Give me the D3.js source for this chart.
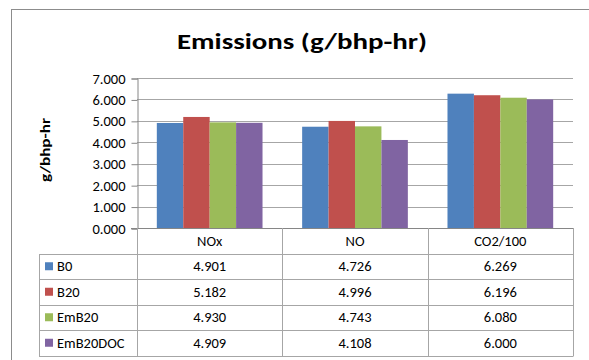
<!DOCTYPE html>
<html>
<head>
<meta charset="utf-8">
<script src="https://cdn.jsdelivr.net/npm/d3@7"></script>
<style>
  html, body { margin: 0; padding: 0; background: #fff; }
  svg { display: block; font-family: Carlito, Lato, "Open Sans", sans-serif; }
</style>
</head>
<body>
<svg id="chart" width="589" height="360"></svg>
<script>
// Emissions per fuel blend, g/bhp-hr (CO2 scaled by 1/100)
const categories = ["NOx", "NO", "CO2/100"];
const seriesNames = ["B0", "B20", "EmB20", "EmB20DOC"];
const B0 = [4.901, 4.726, 6.269];
const B20 = [5.182, 4.996, 6.196];
const EmB20 = [4.930, 4.743, 6.080];
const EmB20DOC = [4.909, 4.108, 6.000];
const seriesValues = [B0, B20, EmB20, EmB20DOC];
const seriesColors = ["#4F81BD", "#C0504D", "#9BBB59", "#8064A2"];
const yTicks = [0, 1, 2, 3, 4, 5, 6, 7];

const svg = d3.select("#chart");
const plot = { left: 137, right: 573, top: 78, bottom: 228 };
const rowH = 25.5;
const tableLeft = 39;
const gridColor = "#a6a6a6";

// Chart frame
svg.append("rect")
  .attr("x", 11.5).attr("y", 9.5)
  .attr("width", 700).attr("height", 400)
  .attr("fill", "#fff").attr("stroke", "#8c8c8c").attr("stroke-width", 1);

// Title
svg.append("text")
  .attr("x", 302).attr("y", 49)
  .attr("text-anchor", "middle")
  .attr("font-size", 23).attr("font-weight", "bold")
  .attr("textLength", 250).attr("lengthAdjust", "spacingAndGlyphs")
  .attr("fill", "#000")
  .text("Emissions (g/bhp-hr)");

// Scales
const y = d3.scaleLinear().domain([0, 7]).range([plot.bottom, plot.top]);
const x = d3.scaleBand().domain(categories).range([plot.left, plot.right]).padding(0);
const xs = d3.scaleBand().domain(seriesNames).range([0, x.bandwidth()])
  .paddingInner(0).paddingOuter(0.75);

// Gridlines
svg.append("g").selectAll("line").data(yTicks.filter(d => d > 0)).join("line")
  .attr("x1", plot.left).attr("x2", plot.right)
  .attr("y1", d => Math.round(y(d)) + 0.5).attr("y2", d => Math.round(y(d)) + 0.5)
  .attr("stroke", gridColor).attr("stroke-width", 1);

// Y axis
const yAxis = d3.axisLeft(y).tickValues(yTicks).tickFormat(d3.format(".3f"))
  .tickSize(6).tickPadding(6);
const gy = svg.append("g")
  .attr("transform", `translate(${plot.left + 0.5},0.5)`)
  .call(yAxis);
gy.select(".domain").attr("stroke", "#868686");
gy.selectAll(".tick line").attr("stroke", "#868686");
gy.selectAll(".tick text")
  .attr("font-family", 'Carlito, Lato, "Open Sans", sans-serif')
  .attr("font-size", 14.5).attr("fill", "#000");

// Y axis title
svg.append("text")
  .attr("transform", "translate(50,150) rotate(-90)")
  .attr("text-anchor", "middle")
  .attr("font-size", 14).attr("font-weight", "bold")
  .attr("textLength", 64).attr("lengthAdjust", "spacingAndGlyphs")
  .attr("fill", "#000")
  .text("g/bhp-hr");

// Bars
const groups = svg.append("g").selectAll("g").data(seriesNames).join("g")
  .attr("fill", (d, i) => seriesColors[i]);
groups.selectAll("rect")
  .data((s, si) => categories.map((c, ci) => ({ s, c, v: seriesValues[si][ci] })))
  .join("rect")
  .attr("x", d => x(d.c) + xs(d.s))
  .attr("width", xs.bandwidth())
  .attr("y", d => y(d.v))
  .attr("height", d => y(0) - y(d.v));

// Data table grid
const tbl = svg.append("g").attr("stroke", gridColor).attr("stroke-width", 1);
// axis baseline (category row top)
tbl.append("line")
  .attr("x1", plot.left - 6).attr("x2", plot.right)
  .attr("y1", plot.bottom + 0.5).attr("y2", plot.bottom + 0.5)
  .attr("stroke", "#868686");
const rowYs = d3.range(1, seriesNames.length + 2).map(i => plot.bottom + rowH * i);
tbl.selectAll("line.row").data(rowYs).join("line").attr("class", "row")
  .attr("x1", tableLeft).attr("x2", plot.right)
  .attr("y1", d => Math.round(d) + 0.5).attr("y2", d => Math.round(d) + 0.5);
const tableBottom = Math.round(rowYs[rowYs.length - 1]) + 0.5;
// vertical lines at category boundaries
const colXs = categories.map(c => x(c)).concat([plot.right]);
tbl.selectAll("line.col").data(colXs).join("line").attr("class", "col")
  .attr("x1", d => Math.round(d) + 0.5).attr("x2", d => Math.round(d) + 0.5)
  .attr("y1", plot.bottom).attr("y2", tableBottom);
tbl.append("line")
  .attr("x1", tableLeft + 0.5).attr("x2", tableLeft + 0.5)
  .attr("y1", Math.round(rowYs[0]) + 0.5).attr("y2", tableBottom);

// Category header labels
svg.append("g").selectAll("text").data(categories).join("text")
  .attr("x", d => x(d) + x.bandwidth() / 2)
  .attr("y", plot.bottom + rowH / 2 + 5)
  .attr("text-anchor", "middle")
  .attr("font-size", 14.5).attr("fill", "#000")
  .text(d => d);

// Legend keys and series values
const rows = svg.append("g").selectAll("g").data(seriesNames).join("g")
  .attr("transform", (d, i) => `translate(0,${plot.bottom + rowH * (i + 1)})`);
rows.append("rect")
  .attr("x", 45).attr("y", rowH / 2 - 4)
  .attr("width", 8).attr("height", 8)
  .attr("fill", (d, i) => seriesColors[i]);
rows.append("text")
  .attr("x", 57).attr("y", rowH / 2 + 5)
  .attr("font-size", 14.5).attr("fill", "#000")
  .text(d => d);
rows.selectAll("text.val")
  .data((s, si) => categories.map((c, ci) => ({ c, v: seriesValues[si][ci] })))
  .join("text").attr("class", "val")
  .attr("x", d => x(d.c) + x.bandwidth() / 2)
  .attr("y", rowH / 2 + 5)
  .attr("text-anchor", "middle")
  .attr("font-size", 14.5).attr("fill", "#000")
  .text(d => d3.format(".3f")(d.v));
</script>
</body>
</html>
